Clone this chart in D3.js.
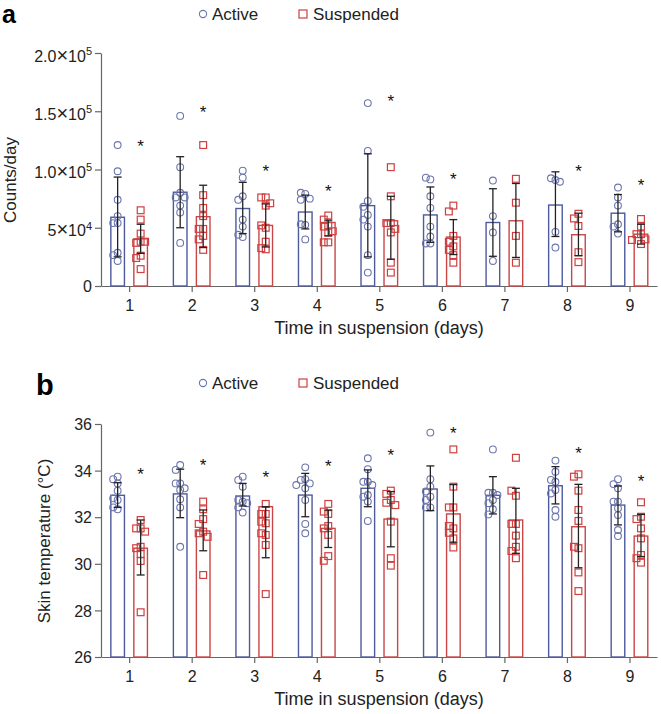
<!DOCTYPE html>
<html>
<head>
<meta charset="utf-8">
<script src="https://cdn.jsdelivr.net/npm/d3@7"></script>
<style>
  body { margin: 0; background: #fff; }
  text { font-family: "Liberation Sans", Arial, Helvetica, sans-serif; }
</style>
</head>
<body>
<div id="chart"></div>
<script>
// ---- shared ----
const days = [1, 2, 3, 4, 5, 6, 7, 8, 9];
const groups = ['Active', 'Suspended'];

// ---- panel a : counts/day ----
const countBarActive = [59000, 80500, 66500, 63500, 69000, 61000, 54500, 69500, 62500];
const countHiActive  = [93500, 111000, 89000, 78000, 113500, 85000, 83500, 98000, 78500];
const countLoActive  = [25000, 50000, 45000, 49000, 25000, 37500, 25500, 42500, 46500];
const countBarSusp   = [40500, 59500, 52000, 54500, 56000, 42000, 56000, 44000, 44500];
const countHiSusp    = [53000, 86500, 70500, 56500, 77000, 57000, 88000, 62500, 53000];
const countLoSusp    = [28000, 33000, 33500, 43000, 23000, 27000, 24500, 26000, 36000];
const countStars     = [122500, 152000, 101000, 84500, 161000, 94500, null, 101000, 89500];
const countPtsActive = [
  [121000, 98500, 74000, 60000, 54000, 54000, 28500, 26500, 21500],
  [146000, 102000, 80000, 76000, 76000, 69000, 63000, 37000],
  [93000, 99000, 77000, 74000, 57000, 51000, 42000, 44000],
  [79000, 80000, 74000, 75000, 52500, 53000, 40000],
  [157000, 116000, 73000, 68000, 61000, 57000, 51000, 26500, 11500],
  [91500, 93000, 77000, 67000, 51000, 42500, 36500, 36500],
  [90500, 60000, 46000, 21500],
  [91000, 92500, 89500, 46500, 33000],
  [84500, 76000, 69000, 53000, 51000, 45000]
];
const countPtsSusp = [
  [65000, 57000, 45000, 38000, 37000, 38000, 26000, 24000, 14500],
  [121000, 78000, 67000, 60000, 49000, 49000, 43000, 40000, 31000],
  [76000, 76000, 69000, 71000, 50000, 52000, 38000, 31500, 32500],
  [60500, 57000, 52000, 51000, 47000, 46000, 37500, 37500],
  [102000, 77000, 54000, 54000, 49000, 46000, 20000, 11500],
  [69000, 64000, 43000, 38000, 34000, 31000, 26500, 20000],
  [92000, 71500, 43000, 20000],
  [62000, 58000, 51500, 29000, 20500],
  [57500, 51000, 44500, 44500, 40000, 39500, 36000]
];
const countTicks = [0, 50000, 100000, 150000, 200000];
const countTickLabels = ['0', '5×10^4', '1.0×10^5', '1.5×10^5', '2.0×10^5'];

// ---- panel b : skin temperature ----
const tempBarActive = [32.94, 33.0, 32.91, 32.95, 33.24, 33.21, 32.94, 33.35, 32.52];
const tempHiActive  = [33.48, 34.06, 33.45, 33.88, 34.03, 34.2, 33.74, 34.17, 33.34];
const tempLoActive  = [32.42, 31.98, 32.48, 32.02, 32.45, 32.28, 32.14, 32.57, 31.67];
const tempBarSusp   = [30.67, 31.41, 32.45, 31.52, 31.92, 32.14, 31.88, 31.59, 31.19];
const tempHiSusp    = [31.88, 32.31, 32.45, 32.31, 33.1, 33.4, 33.24, 33.41, 32.12];
const tempLoSusp    = [29.52, 30.56, 30.26, 30.7, 30.73, 30.9, 30.45, 29.83, 30.31];
const tempStars     = [34.0, 34.38, 33.85, 34.31, 34.79, 35.74, null, 34.88, 33.67];
const tempPtsActive = [
  [33.74, 33.63, 33.45, 33.14, 32.74, 32.81, 32.34, 32.42],
  [34.24, 34.03, 33.45, 33.45, 33.24, 33.17, 32.77, 32.42, 30.73],
  [33.74, 33.6, 33.31, 32.67, 32.74, 32.6, 32.42, 32.2],
  [34.14, 33.63, 33.6, 33.45, 33.24, 33.38, 32.74, 31.71, 31.31],
  [34.53, 34.06, 33.52, 33.52, 33.38, 32.95, 32.88, 32.67, 31.84],
  [35.63, 33.63, 33.31, 33.1, 32.88, 32.74, 32.42, 32.42],
  [34.91, 33.05, 33.05, 32.95, 32.74, 32.6, 32.34, 32.12],
  [34.43, 33.95, 33.52, 33.6, 33.17, 33.02, 32.31, 32.02],
  [33.63, 33.42, 33.24, 32.67, 32.67, 32.38, 32.09, 31.45, 31.19]
];
const tempPtsSusp = [
  [31.88, 31.52, 31.52, 31.38, 30.73, 30.67, 30.42, 30.12, 27.92],
  [32.67, 32.34, 31.92, 31.71, 31.38, 31.31, 31.16, 29.52],
  [32.57, 32.14, 32.14, 31.74, 31.81, 31.24, 31.31, 30.81, 28.7],
  [32.57, 32.14, 32.24, 31.62, 31.52, 31.24, 30.33, 30.13],
  [33.14, 33.0, 32.74, 32.62, 32.52, 31.81, 30.24, 29.92],
  [34.91, 33.31, 32.42, 32.42, 31.52, 31.62, 31.33, 31.09, 30.7],
  [34.55, 32.92, 33.14, 31.71, 31.71, 31.21, 30.73, 30.55, 30.24],
  [33.84, 33.74, 33.14, 32.31, 31.84, 30.67, 30.73, 29.63, 28.83],
  [32.64, 32.02, 31.92, 31.52, 31.09, 30.38, 30.24, 30.05]
];
const tempTicks = [26, 28, 30, 32, 34, 36];
const tempTickLabels = ['26', '28', '30', '32', '34', '36'];

// ---- drawing ----
const W = 661, H = 714;
const colBarA = '#4d5a9c', colPtA = '#6c75ad';
const colBarS = '#c94646', colPtS = '#cf3f3f';
const axisCol = '#666';

const svg = d3.select('#chart').append('svg')
  .attr('width', W).attr('height', H);

const x = d3.scaleLinear().domain([0.55, 9.44]).range([101, 657]);
const inner = d3.scaleBand().domain(groups).range([-19, 19]).paddingInner(0.348);

// spread points sideways so overlapping markers sit next to each other
function swarm(vals, y) {
  const placed = [];
  const cand = [0, -4.5, 4.5, -9, 9];
  return vals.map(v => {
    const py = y(v);
    let dx = 0;
    for (const c of cand) {
      if (!placed.some(p => Math.abs(p.dx - c) < 4 && Math.abs(p.py - py) < 6)) { dx = c; break; }
    }
    placed.push({ dx, py });
    return { v, dx };
  });
}

function drawPanel(opt) {
  const y = d3.scaleLinear().domain(opt.domain).range(opt.range);
  const $g = svg.append('g');
  const base = opt.range[0];

  // y axis
  const $ya = $g.append('g').attr('transform', 'translate(101,0)')
    .call(d3.axisLeft(y).tickValues(opt.ticks).tickSize(6).tickSizeOuter(0).tickPadding(3).tickFormat(''));
  $ya.selectAll('.tick text').remove();
  $ya.selectAll('.tick').each(function (d, i) {
    const lab = opt.tickLabels[i].split('^');
    const t = d3.select(this).append('text')
      .attr('x', -9).attr('dy', lab[1] ? '0.5em' : '0.36em').attr('text-anchor', 'end')
      .attr('fill', '#222').style('font-size', '16px');
    if (lab[1]) {
      const parts = lab[0].split('×');
      t.append('tspan').text(parts[0]);
      t.append('tspan').style('font-size', '20px').text('×');
      t.append('tspan').text(parts[1]);
      t.append('tspan').attr('dy', '-0.6em').style('font-size', '11px').text(lab[1]);
    } else {
      t.text(lab[0]);
    }
  });

  // x axis
  const $xa = $g.append('g').attr('transform', `translate(0,${base})`)
    .call(d3.axisBottom(x).tickValues(days).tickSize(6).tickSizeOuter(0).tickPadding(8).tickFormat(d3.format('d')));
  $xa.selectAll('.tick text').attr('fill', '#222').style('font-size', '16px');

  [$ya, $xa].forEach($a => {
    $a.select('.domain').attr('stroke', axisCol).attr('stroke-width', 1.2);
    $a.selectAll('.tick line').attr('stroke', axisCol).attr('stroke-width', 1.2);
  });

  $g.append('text')
    .attr('x', 379).attr('y', base + 48).attr('text-anchor', 'middle')
    .attr('fill', '#222').style('font-size', '18px').text('Time in suspension (days)');
  $g.append('text')
    .attr('transform', `translate(${opt.yTitleX},${opt.yTitleY}) rotate(-90)`)
    .attr('text-anchor', 'middle').attr('fill', '#222').style('font-size', '17px')
    .text(opt.yTitle);

  const sets = [
    { key: 'Active', bar: opt.barA, hi: opt.hiA, lo: opt.loA, pts: opt.ptsA, cb: colBarA, cp: colPtA },
    { key: 'Suspended', bar: opt.barS, hi: opt.hiS, lo: opt.loS, pts: opt.ptsS, cb: colBarS, cp: colPtS }
  ];

  sets.forEach(s => {
    const bw = inner.bandwidth();
    const cx = d => x(d) + inner(s.key) + bw / 2;

    $g.append('g').selectAll('rect').data(days).join('rect')
      .attr('x', d => cx(d) - bw / 2 + 0.7)
      .attr('width', bw - 1.4)
      .attr('y', (d, i) => y(s.bar[i]))
      .attr('height', (d, i) => base - y(s.bar[i]))
      .attr('fill', 'none').attr('stroke', s.cb).attr('stroke-width', 1.4);

    days.forEach((d, i) => {
      const pts = swarm(s.pts[i], y);
      const $p = $g.append('g');
      if (s.key === 'Active') {
        $p.selectAll('circle').data(pts).join('circle')
          .attr('cx', p => cx(d) + p.dx).attr('cy', p => y(p.v)).attr('r', 3.4)
          .attr('fill', 'none').attr('stroke', s.cp).attr('stroke-width', 1.1);
      } else {
        $p.selectAll('rect').data(pts).join('rect')
          .attr('x', p => cx(d) + p.dx - 3.4).attr('y', p => y(p.v) - 3.4)
          .attr('width', 6.8).attr('height', 6.8)
          .attr('fill', 'none').attr('stroke', s.cp).attr('stroke-width', 1.2);
      }
    });

    // error bars
    const $e = $g.append('g').attr('stroke', '#222').attr('stroke-width', 1.3);
    days.forEach((d, i) => {
      const c = cx(d);
      $e.append('line').attr('x1', c).attr('x2', c).attr('y1', y(s.hi[i])).attr('y2', y(s.lo[i]));
      $e.append('line').attr('x1', c - 4).attr('x2', c + 4).attr('y1', y(s.hi[i])).attr('y2', y(s.hi[i]));
      $e.append('line').attr('x1', c - 4).attr('x2', c + 4).attr('y1', y(s.lo[i])).attr('y2', y(s.lo[i]));
    });
  });

  // significance stars over the suspended bars
  $g.append('g').selectAll('text').data(days.filter((d, i) => opt.stars[i] != null)).join('text')
    .attr('x', d => x(d) + inner('Suspended') + inner.bandwidth() / 2)
    .attr('y', d => y(opt.stars[d - 1]) + 9)
    .attr('text-anchor', 'middle').attr('fill', '#111').style('font-size', '17px')
    .text('*');

  // legend
  const $l = $g.append('g').attr('transform', `translate(0,${opt.legendY})`);
  $l.append('circle').attr('cx', 203).attr('cy', 0).attr('r', 3.6)
    .attr('fill', 'none').attr('stroke', colPtA).attr('stroke-width', 1.1);
  $l.append('text').attr('x', 212).attr('y', 6).attr('fill', '#222').style('font-size', '17px').text('Active');
  $l.append('rect').attr('x', 299).attr('y', -4).attr('width', 8).attr('height', 8)
    .attr('fill', 'none').attr('stroke', colPtS).attr('stroke-width', 1.2);
  $l.append('text').attr('x', 313).attr('y', 6).attr('fill', '#222').style('font-size', '17px').text('Suspended');

  // panel letter
  $g.append('text').attr('x', opt.letterX).attr('y', opt.letterY)
    .attr('fill', '#000').style('font-size', opt.letterSize).style('font-weight', 'bold').text(opt.letter);
}

drawPanel({
  domain: [0, 200000], range: [286, 53],
  ticks: countTicks, tickLabels: countTickLabels,
  barA: countBarActive, hiA: countHiActive, loA: countLoActive, ptsA: countPtsActive,
  barS: countBarSusp, hiS: countHiSusp, loS: countLoSusp, ptsS: countPtsSusp,
  stars: countStars,
  yTitle: 'Counts/day', yTitleX: 16, yTitleY: 180,
  legendY: 14, letter: 'a', letterX: 2, letterY: 23, letterSize: '25px'
});

drawPanel({
  domain: [26, 36], range: [657, 424],
  ticks: tempTicks, tickLabels: tempTickLabels,
  barA: tempBarActive, hiA: tempHiActive, loA: tempLoActive, ptsA: tempPtsActive,
  barS: tempBarSusp, hiS: tempHiSusp, loS: tempLoSusp, ptsS: tempPtsSusp,
  stars: tempStars,
  yTitle: 'Skin temperature (°C)', yTitleX: 50, yTitleY: 541,
  legendY: 383, letter: 'b', letterX: 36, letterY: 395, letterSize: '29px'
});
</script>
</body>
</html>
